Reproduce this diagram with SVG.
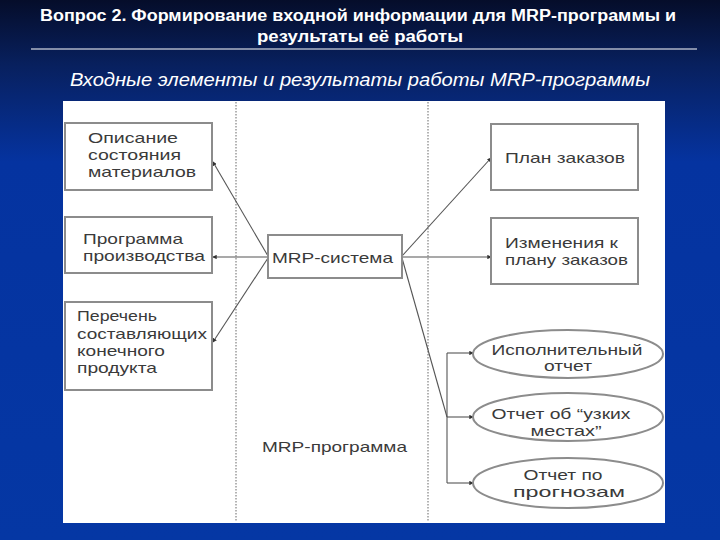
<svg xmlns="http://www.w3.org/2000/svg" width="720" height="540" viewBox="0 0 720 540">
  <defs>
    <linearGradient id="bg" x1="0" y1="0" x2="0" y2="1">
      <stop offset="0" stop-color="#050d2a"/>
      <stop offset="0.12" stop-color="#08205e"/>
      <stop offset="0.3" stop-color="#0533a0"/>
      <stop offset="1" stop-color="#0537a4"/>
    </linearGradient>
    <marker id="arr" viewBox="0 0 6 6" refX="5" refY="3" markerWidth="4" markerHeight="4" orient="auto">
      <path d="M0,0 L6,3 L0,6 z" fill="#333"/>
    </marker>
    <style>
      .title { font-family: "Liberation Sans", Arial, sans-serif; font-size: 16px; font-weight: bold; fill: #ffffff; }
      .sub { font-family: "Liberation Sans", Arial, sans-serif; font-size: 18px; font-style: italic; fill: #ffffff; }
      .box { fill: #ffffff; stroke: #8c8c8c; stroke-width: 2; }
      .lbl { font-family: "Liberation Sans", Arial, sans-serif; font-size: 15px; fill: #3a3a3a; }
      .mid { text-anchor: middle; }
      .conn { stroke: #555555; stroke-width: 1.1; fill: none; }
      .dot { stroke: #9a9a9a; stroke-width: 1.5; stroke-dasharray: 1.5 1.5; fill: none; }
    </style>
  </defs>

  <rect x="0" y="0" width="720" height="540" fill="url(#bg)"/>

  <g id="header">
    <text class="title mid" x="358" y="21" textLength="636" lengthAdjust="spacingAndGlyphs">Вопрос 2. Формирование входной информации для MRP-программы и</text>
    <text class="title mid" x="360" y="42" textLength="206" lengthAdjust="spacingAndGlyphs">результаты её работы</text>
    <line x1="31" y1="49" x2="697" y2="49" stroke="#ffffff" stroke-width="1.2"/>
    <text class="sub mid" x="360" y="86" textLength="580" lengthAdjust="spacingAndGlyphs">Входные элементы и результаты работы MRP-программы</text>
  </g>

  <rect id="panel" x="63" y="101" width="602" height="422" fill="#ffffff"/>

  <g id="dividers">
    <line class="dot" x1="236" y1="102" x2="236" y2="522"/>
    <line class="dot" x1="428" y1="102" x2="428" y2="522"/>
  </g>

  <g id="connectors">
    <line class="conn" x1="268" y1="256" x2="213" y2="162" marker-end="url(#arr)"/>
    <line class="conn" x1="268" y1="257" x2="213" y2="257" marker-end="url(#arr)"/>
    <line class="conn" x1="268" y1="258" x2="213" y2="342" marker-end="url(#arr)"/>
    <line class="conn" x1="402" y1="256" x2="491" y2="158" marker-end="url(#arr)"/>
    <line class="conn" x1="402" y1="257" x2="491" y2="257" marker-end="url(#arr)"/>
    <line class="conn" x1="402" y1="258" x2="447" y2="417"/>
    <line class="conn" x1="447" y1="353" x2="447" y2="483"/>
    <line class="conn" x1="447" y1="353" x2="473" y2="353" marker-end="url(#arr)"/>
    <line class="conn" x1="447" y1="417" x2="473" y2="417" marker-end="url(#arr)"/>
    <line class="conn" x1="447" y1="483" x2="473" y2="483" marker-end="url(#arr)"/>
  </g>

  <g id="n-opisanie">
    <rect class="box" x="65" y="123" width="147" height="67"/>
    <text class="lbl" x="88" y="143" textLength="90" lengthAdjust="spacingAndGlyphs">Описание</text>
    <text class="lbl" x="88" y="160" textLength="93" lengthAdjust="spacingAndGlyphs">состояния</text>
    <text class="lbl" x="88" y="177" textLength="108" lengthAdjust="spacingAndGlyphs">материалов</text>
  </g>

  <g id="n-programma">
    <rect class="box" x="65" y="217" width="147" height="56"/>
    <text class="lbl" x="83" y="244" textLength="100" lengthAdjust="spacingAndGlyphs">Программа</text>
    <text class="lbl" x="83" y="261" textLength="122" lengthAdjust="spacingAndGlyphs">производства</text>
  </g>

  <g id="n-perechen">
    <rect class="box" x="65" y="302" width="147" height="88"/>
    <text class="lbl" x="77" y="321" textLength="80" lengthAdjust="spacingAndGlyphs">Перечень</text>
    <text class="lbl" x="77" y="339" textLength="130" lengthAdjust="spacingAndGlyphs">составляющих</text>
    <text class="lbl" x="77" y="356" textLength="88" lengthAdjust="spacingAndGlyphs">конечного</text>
    <text class="lbl" x="77" y="373" textLength="80" lengthAdjust="spacingAndGlyphs">продукта</text>
  </g>

  <g id="n-mrp-sistema">
    <rect class="box" x="268" y="235" width="134" height="43"/>
    <text class="lbl" x="272" y="263" textLength="121" lengthAdjust="spacingAndGlyphs">MRP-система</text>
  </g>

  <g id="n-plan">
    <rect class="box" x="491" y="124" width="147" height="66"/>
    <text class="lbl" x="505" y="163" textLength="120" lengthAdjust="spacingAndGlyphs">План заказов</text>
  </g>

  <g id="n-izmenenia">
    <rect class="box" x="491" y="218" width="147" height="66"/>
    <text class="lbl" x="505" y="248" textLength="113" lengthAdjust="spacingAndGlyphs">Изменения к</text>
    <text class="lbl" x="505" y="265" textLength="123" lengthAdjust="spacingAndGlyphs">плану заказов</text>
  </g>

  <g id="n-ispoln">
    <ellipse class="box" cx="568" cy="354" rx="95" ry="24" stroke-width="1.6"/>
    <text class="lbl mid" x="567" y="355" textLength="151" lengthAdjust="spacingAndGlyphs">Исполнительный</text>
    <text class="lbl mid" x="568" y="371" textLength="48" lengthAdjust="spacingAndGlyphs">отчет</text>
  </g>

  <g id="n-uzkie">
    <ellipse class="box" cx="568" cy="417" rx="95" ry="24" stroke-width="1.6"/>
    <text class="lbl mid" x="561" y="419" textLength="139" lengthAdjust="spacingAndGlyphs">Отчет об “узких</text>
    <text class="lbl mid" x="566" y="436" textLength="71" lengthAdjust="spacingAndGlyphs">местах”</text>
  </g>

  <g id="n-prognoz">
    <ellipse class="box" cx="568" cy="483" rx="95" ry="25" stroke-width="1.6"/>
    <text class="lbl mid" x="563" y="480" textLength="79" lengthAdjust="spacingAndGlyphs">Отчет по</text>
    <text class="lbl mid" x="569" y="497" textLength="112" lengthAdjust="spacingAndGlyphs">прогнозам</text>
  </g>

  <g id="n-mrp-programma">
    <text class="lbl" x="262" y="452" textLength="145" lengthAdjust="spacingAndGlyphs">MRP-программа</text>
  </g>
</svg>
